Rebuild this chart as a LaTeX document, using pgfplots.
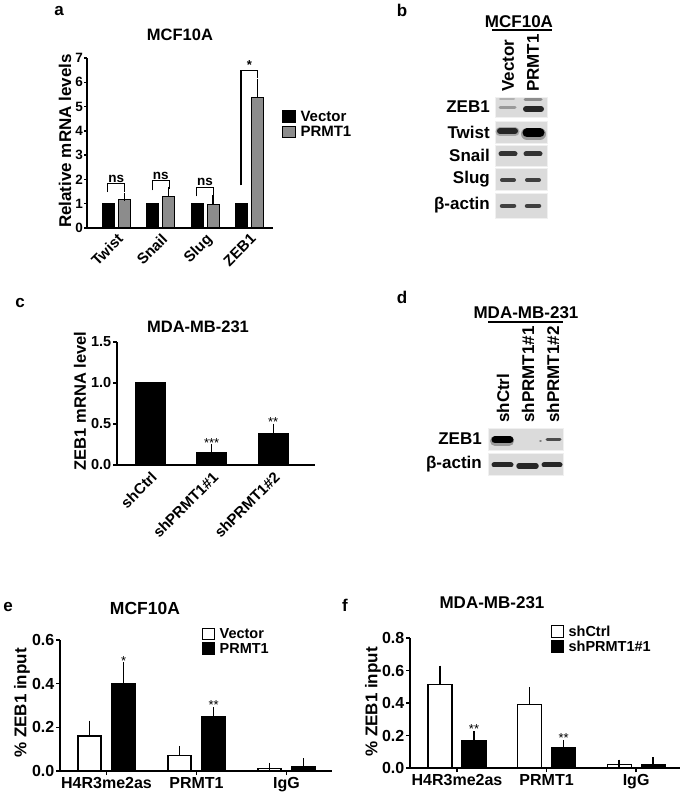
\documentclass[border=0pt]{standalone}
\usepackage{fontspec}
\setmainfont{Liberation Sans}
\usepackage{pgfplots}
\pgfplotsset{compat=1.18}
\newcommand\fs[1]{\fontsize{#1}{#1}\selectfont\bfseries}
\pgfplotsset{
 gp/.style={scale only axis, axis lines=left, axis line style={-, line width=1.3pt},
   tick style={black, line width=1.3pt}, major tick length=4pt, tick align=outside,
   ymin=0, clip=false, ybar, /pgf/number format/assume math mode=true,
   legend image code/.code={\draw[##1, line width=1pt] (0pt,-5.5pt) rectangle (12pt,6pt);},
   legend style={draw=none, fill=none, inner sep=0pt, nodes={inner sep=1.5pt},
     /tikz/every odd column/.append style={column sep=3.5pt}},
   legend cell align=left,
 },
 eb/.style={error bars/.cd, y dir=plus, y explicit,
   error bar style={line width=1.3pt, black},
   error mark options={line width=1.3pt, mark size=#1, black}},
 blot/.style={scale only axis, hide axis, clip=false, y dir=reverse},
 bg/.style={fill=black!14, draw=black!6, line width=0.6pt},
}
\begin{document}
\begin{tikzpicture}[x=1pt,y=1pt]
\useasboundingbox (0,0) rectangle (685,796);

% ---------------- panel a ----------------
\node[font=\fs{17}] at (59,785) {a};
\node[font=\fs{16.5}] at (180,761) {MCF10A};
\node[font=\fs{17}, rotate=90] at (65,655) {Relative mRNA levels};
\begin{axis}[gp, at={(87pt,568pt)}, anchor=south west, width=186pt, height=170pt,
  xmin=-0.66, xmax=3.53, ymax=7, ytick={0,1,2,3,4,5,6,7}, major tick length=3pt,
  y tick label style={font=\fs{13.5}, inner sep=1pt},
  xtick={0,1,2,3}, xticklabels={Twist,Snail,Slug,ZEB1}, xtick style={draw=none},
  x tick label style={font=\fs{15}, rotate=45, anchor=north east, inner sep=1pt},
  legend style={at={(1.05,0.70)}, anchor=north west, font=\fs{15}, row sep=1pt}]
\addplot[fill=black, draw=black, line width=1pt, bar width=12pt, bar shift=-8pt]
  coordinates {(0,1) (1,1) (2,1) (3,1)};
\addplot[fill=black!45, draw=black, line width=1pt, bar width=12pt, bar shift=8pt, eb=4pt]
  coordinates {(0,1.18) +- (0,0.1) (1,1.28) +- (0,0.24) (2,0.98) +- (0,0.2) (3,5.37) +- (0,0.62)};
\legend{Vector,PRMT1}
\draw[line width=1.1pt] (axis cs:-0.19,1.48) |- (axis cs:0.19,1.82) -- (axis cs:0.19,1.50);
\node[font=\fs{13.5}, anchor=south, inner sep=1pt] at (axis cs:0,1.82) {ns};
\draw[line width=1.1pt] (axis cs:0.81,1.55) |- (axis cs:1.19,1.96) -- (axis cs:1.19,1.62);
\node[font=\fs{13.5}, anchor=south, inner sep=1pt] at (axis cs:1,1.96) {ns};
\draw[line width=1.1pt] (axis cs:1.81,1.30) |- (axis cs:2.19,1.68) -- (axis cs:2.19,1.28);
\node[font=\fs{13.5}, anchor=south, inner sep=1pt] at (axis cs:2,1.68) {ns};
\draw[line width=1.1pt] (axis cs:2.81,1.75) |- (axis cs:3.19,6.48) -- (axis cs:3.19,6.17);
\node[font=\fs{13}, anchor=south, inner sep=1pt] at (axis cs:3,6.48) {*};
\end{axis}

% ---------------- panel b ----------------
\node[font=\fs{17}] at (402,786) {b};
\node[font=\fs{17}] at (519,774) {MCF10A};
\draw[line width=1.3pt] (492,766) -- (552,766);
\node[font=\fs{17}, rotate=90, anchor=west, inner sep=0pt] at (508,704) {Vector};
\node[font=\fs{17}, rotate=90, anchor=west, inner sep=0pt] at (533,704) {PRMT1};
\begin{axis}[blot, at={(480pt,571pt)}, anchor=south west, width=80pt, height=135pt,
  xmin=480, xmax=560, ymin=90, ymax=225]
\addplot[bg] coordinates {(495,97) (547,97) (547,117) (495,117)} -- cycle;
\addplot[bg] coordinates {(495,121) (547,121) (547,143) (495,143)} -- cycle;
\addplot[bg] coordinates {(495,145) (547,145) (547,166) (495,166)} -- cycle;
\addplot[bg] coordinates {(495,168) (547,168) (547,190) (495,190)} -- cycle;
\addplot[bg] coordinates {(495,193) (547,193) (547,218) (495,218)} -- cycle;
% ZEB1
\addplot[black!30, line width=2pt, line cap=round] coordinates {(500,99) (514,99)};
\addplot[black!40, line width=3pt, line cap=round] coordinates {(500,108) (515,108)};
\addplot[black!45, line width=3pt, line cap=round] coordinates {(525,100) (541,100)};
\addplot[black!85, line width=6pt, line cap=round] coordinates {(526,109) (541,109)};
% Twist
\addplot[black!35, line width=9pt, line cap=round] coordinates {(500,132) (515,132)};
\addplot[black!85, line width=6pt, line cap=round] coordinates {(500,131) (515,131)};
\addplot[black!40, line width=12pt, line cap=round] coordinates {(527,134) (540,134)};
\addplot[black, line width=9pt, line cap=round] coordinates {(527,133) (540,133)};
% Snail
\addplot[black!80, line width=5pt, line cap=round] coordinates {(501,154) (515,154)};
\addplot[black!80, line width=5pt, line cap=round] coordinates {(526,154) (540,154)};
% Slug
\addplot[black!75, line width=4pt, line cap=round] coordinates {(502,180) (514,180)};
\addplot[black!75, line width=4pt, line cap=round] coordinates {(527,180) (539,180)};
% beta-actin
\addplot[black!75, line width=4.5pt, line cap=round] coordinates {(502,206) (514,206)};
\addplot[black!75, line width=4.5pt, line cap=round] coordinates {(527,206) (539,206)};
\node[font=\fs{17}, anchor=east, inner sep=1pt] at (axis cs:491,107) {ZEB1};
\node[font=\fs{17}, anchor=east, inner sep=1pt] at (axis cs:491,132) {Twist};
\node[font=\fs{17}, anchor=east, inner sep=1pt] at (axis cs:491,155) {Snail};
\node[font=\fs{17}, anchor=east, inner sep=1pt] at (axis cs:491,179) {Slug};
\node[font=\fs{17}, anchor=east, inner sep=1pt] at (axis cs:491,205) {β-actin};
\end{axis}

% ---------------- panel c ----------------
\node[font=\fs{17}] at (20,493) {c};
\node[font=\fs{16.5}] at (198,469) {MDA-MB-231};
\node[font=\fs{16.5}, rotate=90] at (80,395) {ZEB1 mRNA level};
\begin{axis}[gp, at={(117pt,331pt)}, anchor=south west, width=198pt, height=123pt,
  xmin=-0.54, xmax=2.68, ymax=1.5, ytick={0,0.5,1,1.5},
  y tick label style={font=\fs{14.5}, inner sep=1.5pt, /pgf/number format/.cd, fixed, fixed zerofill, precision=1},
  xtick={0,1,2}, xticklabels={shCtrl,shPRMT1\#1,shPRMT1\#2}, xtick style={draw=none},
  x tick label style={font=\fs{15}, rotate=45, anchor=north east, inner sep=1pt}]
\addplot[fill=black, draw=black, line width=1pt, bar width=30pt, bar shift=0pt]
  coordinates {(0,1)};
\addplot[fill=black, draw=black, line width=1pt, bar width=30pt, bar shift=0pt, eb=5pt]
  coordinates {(1,0.155) +- (0,0.035) (2,0.385) +- (0,0.06)};
\node[font=\fontsize{13}{13}\selectfont, anchor=south, inner sep=1pt] at (axis cs:1,0.20) {***};
\node[font=\fontsize{13}{13}\selectfont, anchor=south, inner sep=1pt] at (axis cs:2,0.45) {**};
\end{axis}

% ---------------- panel d ----------------
\node[font=\fs{17}] at (402,499) {d};
\node[font=\fs{17}] at (526,483) {MDA-MB-231};
\draw[line width=1.3pt] (488,474) -- (563,474);
\node[font=\fs{17}, rotate=90, anchor=west, inner sep=0pt] at (503,373) {shCtrl};
\node[font=\fs{17}, rotate=90, anchor=west, inner sep=0pt] at (528,373) {shPRMT1\#1};
\node[font=\fs{17}, rotate=90, anchor=west, inner sep=0pt] at (553,373) {shPRMT1\#2};
\begin{axis}[blot, at={(470pt,316pt)}, anchor=south west, width=100pt, height=60pt,
  xmin=470, xmax=570, ymin=420, ymax=480]
\addplot[bg] coordinates {(488,428) (563,428) (563,450) (488,450)} -- cycle;
\addplot[bg] coordinates {(488,453) (563,453) (563,475) (488,475)} -- cycle;
\addplot[black!40, line width=10pt, line cap=round] coordinates {(495,441) (509,441)};
\addplot[black, line width=7pt, line cap=round] coordinates {(495,440) (510,440)};
\addplot[black!70, line width=3pt, line cap=round] coordinates {(547,440) (560,440)};
\addplot[black!50, line width=1.5pt, line cap=round] coordinates {(540,441) (541,441)};
\addplot[black!85, line width=5pt, line cap=round] coordinates {(494,465) (511,465)};
\addplot[black!85, line width=5.5pt, line cap=round] coordinates {(519,466) (536,466)};
\addplot[black!85, line width=5pt, line cap=round] coordinates {(544,465) (560,465)};
\node[font=\fs{17}, anchor=east, inner sep=1pt] at (axis cs:483,439) {ZEB1};
\node[font=\fs{17}, anchor=east, inner sep=1pt] at (axis cs:483,464) {β-actin};
\end{axis}

% ---------------- panel e ----------------
\node[font=\fs{17}] at (8,189) {e};
\node[font=\fs{17.5}] at (145,188) {MCF10A};
\node[font=\fs{17}, rotate=90] at (22,93) {\% ZEB1 input};
\begin{axis}[gp, at={(60pt,25pt)}, anchor=south west, width=272pt, height=131pt,
  xmin=-0.517, xmax=2.506, ymax=0.6, ytick={0,0.2,0.4,0.6},
  y tick label style={font=\fs{16}, inner sep=1.5pt, /pgf/number format/.cd, fixed, fixed zerofill, precision=1},
  xtick={0,1,2}, xticklabels={H4R3me2as,PRMT1,IgG},
  x tick label style={font=\fs{16}, inner sep=2pt},
  legend style={at={(0.52,1.10)}, anchor=north west, font=\fs{14.5}}]
\addplot[fill=white, draw=black, line width=1.2pt, bar width=23pt, bar shift=-17pt, eb=4.5pt]
  coordinates {(0,0.16) +- (0,0.05) (1,0.072) +- (0,0.023) (2,0.012) +- (0,0.005)};
\addplot[fill=black, draw=black, line width=1.2pt, bar width=23pt, bar shift=17pt, eb=4.5pt]
  coordinates {(0,0.40) +- (0,0.078) (1,0.248) +- (0,0.024) (2,0.018) +- (0,0.019)};
\legend{Vector,PRMT1}
\node[font=\fontsize{13}{13}\selectfont, anchor=south, inner sep=1pt] at (axis cs:0.19,0.48) {*};
\node[font=\fontsize{13}{13}\selectfont, anchor=south, inner sep=1pt] at (axis cs:1.19,0.275) {**};
\end{axis}

% ---------------- panel f ----------------
\node[font=\fs{17}] at (345,191) {f};
\node[font=\fs{17}] at (492,193) {MDA-MB-231};
\node[font=\fs{17}, rotate=90] at (373,94) {\% ZEB1 input};
\begin{axis}[gp, at={(410pt,28pt)}, anchor=south west, width=270pt, height=130pt,
  xmin=-0.525, xmax=2.49, ymax=0.8, ytick={0,0.2,0.4,0.6,0.8},
  y tick label style={font=\fs{16}, inner sep=1.5pt, /pgf/number format/.cd, fixed, fixed zerofill, precision=1},
  xtick={0,1,2}, xticklabels={H4R3me2as,PRMT1,IgG},
  x tick label style={font=\fs{16}, inner sep=2pt},
  legend style={at={(0.52,1.108)}, anchor=north west, font=\fs{14.5}}]
\addplot[fill=white, draw=black, line width=1.2pt, bar width=24pt, bar shift=-17pt, eb=4.5pt]
  coordinates {(0,0.515) +- (0,0.087) (1,0.39) +- (0,0.082) (2,0.02) +- (0,0.004)};
\addplot[fill=black, draw=black, line width=1.2pt, bar width=24pt, bar shift=17pt, eb=4.5pt]
  coordinates {(0,0.168) +- (0,0.032) (1,0.128) +- (0,0.016) (2,0.018) +- (0,0.02)};
\legend{shCtrl,shPRMT1\#1}
\node[font=\fontsize{13}{13}\selectfont, anchor=south, inner sep=1pt] at (axis cs:0.19,0.205) {**};
\node[font=\fontsize{13}{13}\selectfont, anchor=south, inner sep=1pt] at (axis cs:1.19,0.148) {**};
\end{axis}
\end{tikzpicture}
\end{document}
